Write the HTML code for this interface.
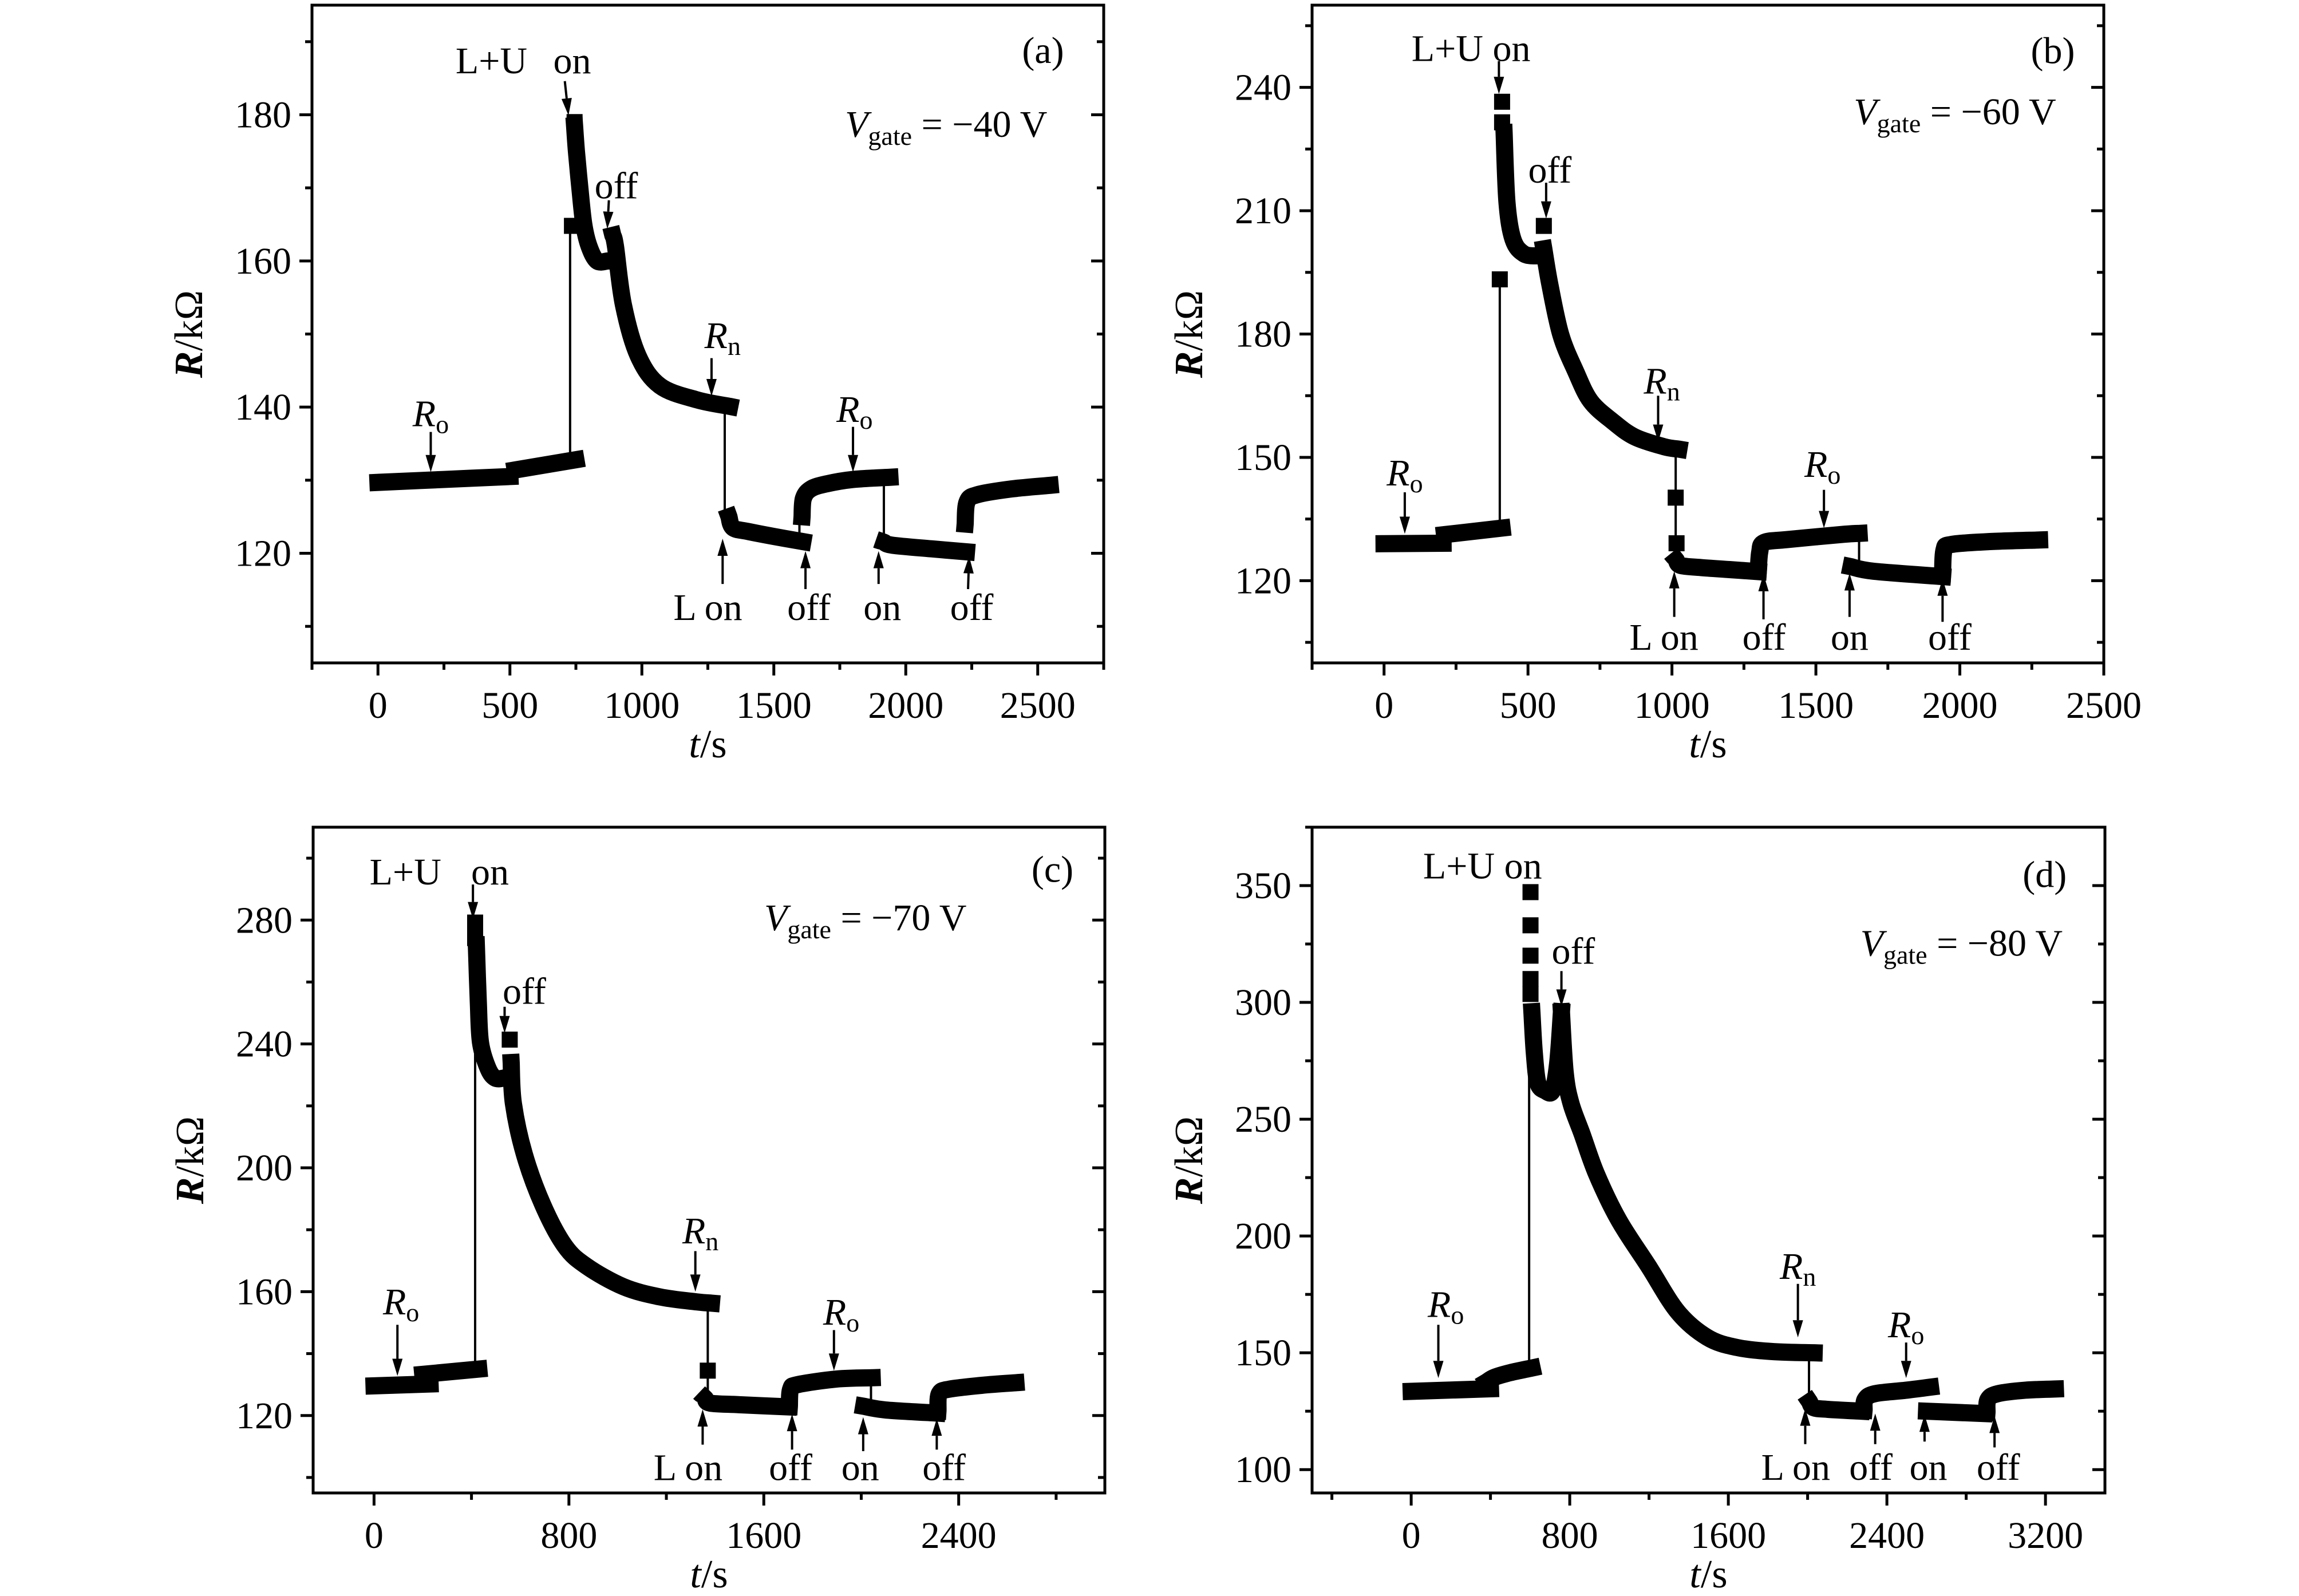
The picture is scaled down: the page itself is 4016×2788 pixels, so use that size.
<!DOCTYPE html>
<html><head><meta charset="utf-8"><style>
html,body{margin:0;padding:0;background:#fff;}
svg{display:block;font-family:"Liberation Serif",serif;}
</style></head><body>
<svg id="fig" xmlns="http://www.w3.org/2000/svg" width="4016" height="2788" viewBox="0 0 4016 2788"></svg>
<script>
// ---------- Panel (a) data ----------
const aXTicks=[0,500,1000,1500,2000,2500];
const aYTicks=[120,140,160,180];
const aSeg1=[[0,129.7],[250,130.1],[500,130.5]];
const aSeg2=[[520,131.4],[750,132.8]];
const aSeg3=[[745,178.5],[752,175],[765,170],[780,165],[800,162],[830,160],[870,160]];
const aSeg4=[[890,163.5],[900,162],[930,154],[986,147],[1069,142.9],[1208,141],[1333,140.1]];
const aSeg5=[[1330,125],[1345,123.5],[1400,123],[1500,122.3],[1610,121.6]];
const aSeg6=[[1607,125],[1612,127.5],[1640,128.8],[1700,129.5],[1800,130.1],[1940,130.4]];
const aSeg7=[[1918,121.5],[1950,121.1],[2100,120.6],[2230,120.2]];
const aSeg8=[[2225,124],[2232,127],[2270,128],[2400,128.8],[2547,129.3]];
const aSquares=[[735,164.8],[745,179]];
const aJumps=[[728,132.8,164],[1314,139.5,125],[1597,122,125],[1917,130,121.5]];
// ---------- Panel (b) data ----------
const bXTicks=[0,500,1000,1500,2000,2500];
const bYTicks=[120,150,180,210,240];
const bSeg1=[[0,129.0],[205,129.1]];
const bSeg2=[[210,131.2],[410,132.8]];
const bSeg3=[[417,229],[427,212],[448,203],[486,199.5],[537,199]];
const bSeg4=[[555,200.7],[576,192],[614,179.8],[665,171],[717,163.7],[793,158.8],[870,155],[972,152.6],[1024,152]];
const bSeg5=[[1015,125],[1030,123.7],[1100,123.2],[1200,122.7],[1300,122.2]];
const bSeg6=[[1300,122.5],[1305,127],[1320,129.3],[1400,130],[1600,131.3],[1650,131.5]];
const bSeg7=[[1622,123.4],[1700,122.3],[1940,121]];
const bSeg8=[[1940,121.5],[1945,127.5],[1970,128.8],[2100,129.5],[2277,129.9]];
const bSquares=[[402,193.3],[410,236.5],[410,231.5],[555,206.3],[1013,140.2],[1016,129.1]];
const bJumps=[[402,132.8,192],[1013,152,125],[1650,131,124]];
// ---------- Panel (c) data ----------
const cXTicks=[0,800,1600,2400];
const cYTicks=[120,160,200,240,280];
const cSeg1=[[0,129.6],[230,130.2]];
const cSeg2=[[200,133.3],[430,135]];
const cSeg3=[[420,272],[428,253.7],[437,240.5],[467,232.3],[497,229],[536,229]];
const cSeg4=[[563,234],[572,220.8],[617,204.4],[693,188],[783,174.8],[873,168.2],[1024,161.6],[1174,158.3],[1325,156.7],[1385,156.3]];
const cSeg5=[[1360,125.5],[1380,124],[1500,123.5],[1700,122.8]];
const cSeg6=[[1705,123],[1710,128.5],[1740,130],[1900,131.8],[2045,132.2]];
const cSeg7=[[2010,123],[2100,121.8],[2310,120.8]];
const cSeg8=[[2315,121.5],[2320,127],[2360,128.5],[2500,129.8],[2635,130.6]];
const cSquares=[[415,279.2],[415,274.2],[557,241.4],[1370,134.5]];
const cJumps=[[415,135,272],[1370,156,125],[2040,132,123]];
// ---------- Panel (d) data ----------
const dXTicks=[0,800,1600,2400,3200];
const dYTicks=[100,150,200,250,300,350];
const dSeg1=[[0,133.5],[400,134.6]];
const dSeg2=[[380,137.5],[420,139.5],[500,141.5],[610,143.5]];
const dSeg3=[[609,296],[621,278.6],[639,265.5],[676,262.2],[713,262.2],[739,274],[758,296]];
const dSeg4=[[758,296],[777,270],[806,256.8],[862,243.7],[936,226.3],[1048,206.7],[1197,187.1],[1345,167.5],[1494,156.6],[1642,152.3],[1828,150.5],[2033,150]];
const dSeg5=[[2010,129],[2030,126.5],[2100,125.8],[2270,125]];
const dSeg6=[[2285,125.5],[2290,130],[2340,132.5],[2500,134],[2620,135.3]];
const dSeg7=[[2600,125],[2890,124]];
const dSeg8=[[2905,124.5],[2910,130],[2960,132.5],[3100,134],[3250,134.5]];
const dSquares=[[602,347.2],[602,333],[602,320],[602,310],[602,303.6]];
const dJumps=[[595,143.5,283],[2007,150,129]];

const NS="http://www.w3.org/2000/svg";
const svg=document.getElementById('fig');
function mk(tag,attrs,parent){const e=document.createElementNS(NS,tag);for(const k in attrs)e.setAttribute(k,attrs[k]);(parent||svg).appendChild(e);return e;}
function smoothPath(pts){
  if(pts.length<3) return 'M'+pts.map(p=>p[0]+','+p[1]).join(' L');
  let d='M'+pts[0][0]+','+pts[0][1];
  for(let i=0;i<pts.length-1;i++){
    const p0=pts[Math.max(0,i-1)],p1=pts[i],p2=pts[i+1],p3=pts[Math.min(pts.length-1,i+2)];
    const c1x=p1[0]+(p2[0]-p0[0])/6,c1y=p1[1]+(p2[1]-p0[1])/6;
    const c2x=p2[0]-(p3[0]-p1[0])/6,c2y=p2[1]-(p3[1]-p1[1])/6;
    d+=` C${c1x},${c1y} ${c2x},${c2y} ${p2[0]},${p2[1]}`;
  }
  return d;
}

function panel(cfg){
  const g=mk('g',{});
  
  
  const X=t=>cfg.x0+(t-cfg.xmin)/(cfg.xmax-cfg.xmin)*(cfg.x1-cfg.x0);
  const Y=r=>cfg.y1-(r-cfg.ymin)/(cfg.ymax-cfg.ymin)*(cfg.y1-cfg.y0);
  const fr=mk('rect',{x:cfg.x0,y:cfg.y0,width:cfg.x1-cfg.x0,height:cfg.y1-cfg.y0,fill:'none',stroke:'#000','stroke-width':5},g);
  
  
  for(let t=cfg.xMinorStart;t<=cfg.xmax+0.1;t+=cfg.xMinorStep){
    const major=cfg.xTicks.includes(t);
    const l=mk('line',{x1:X(t),x2:X(t),y1:cfg.y1,y2:cfg.y1+(major?22:12),stroke:'#000','stroke-width':5},g);
    
    
  }
  cfg.xTicks.forEach(t=>{
    const tx=mk('text',{x:X(t),y:cfg.y1+96,'font-size':66,'text-anchor':'middle'},g);
    tx.textContent=t;
    
    
  });
  for(let r=cfg.yMinorStart;r<=cfg.ymax+0.1;r+=cfg.yMinorStep){
    const major=cfg.yTicks.includes(r);
    const len=major?22:12;
    const l=mk('line',{x1:cfg.x0-len,x2:cfg.x0,y1:Y(r),y2:Y(r),stroke:'#000','stroke-width':5},g);
    
    
    const l2=mk('line',{x1:cfg.x1-len,x2:cfg.x1,y1:Y(r),y2:Y(r),stroke:'#000','stroke-width':5},g);
    
    
  }
  cfg.yTicks.forEach(r=>{
    const tx=mk('text',{x:cfg.x0-36,y:Y(r)+22,'font-size':66,'text-anchor':'end'},g);
    tx.textContent=r;
    
    
  });
  const xt=mk('text',{x:(cfg.x0+cfg.x1)/2,y:cfg.y1+165,'font-size':70,'text-anchor':'middle'},g);
  xt.innerHTML='<tspan font-style="italic">t</tspan>/s';
  
  
  const cy=(cfg.y0+cfg.y1)/2, cx=cfg.x0-216;
  const yt=mk('text',{x:cx,y:cy+24,'font-size':70,'text-anchor':'middle',transform:`rotate(-90 ${cx} ${cy})`},g);
  yt.innerHTML='<tspan font-style="italic" font-weight="bold">R</tspan>/kΩ';
  
  
  cfg.jumps.forEach(j=>{
    const l=mk('line',{x1:X(j[0]),x2:X(j[0]),y1:Y(j[1]),y2:Y(j[2]),stroke:'#000','stroke-width':4},g);
    
    
  });
  cfg.segs.forEach((s,i)=>{
    const p=mk('path',{d:smoothPath(s.map(d=>[X(d[0]),Y(d[1])])),fill:'none',stroke:'#000','stroke-width':30,'stroke-linejoin':'round','stroke-linecap':'square'},g);
    
    
  });
  cfg.squares.forEach(d=>{
    const r=mk('rect',{x:X(d[0])-14,y:Y(d[1])-14,width:28,height:28,fill:'#000'},g);
    
    
  });
  cfg.arrows.forEach(a=>{
    const x1=X(a[0]),y1=Y(a[1]),x2=X(a[2]),y2=Y(a[3]);
    const dx=x2-x1,dy=y2-y1,L=Math.hypot(dx,dy),ux=dx/L,uy=dy/L;
    const bx=x2-ux*30,by=y2-uy*30;
    const ag=mk('g',{},g);
    
    
    mk('line',{x1:x1,y1:y1,x2:bx,y2:by,stroke:'#000','stroke-width':4},ag);
    mk('polygon',{points:`${x2},${y2} ${bx-uy*9},${by+ux*9} ${bx+uy*9},${by-ux*9}`,fill:'#000'},ag);
  });
  cfg.labels.forEach(l=>{
    const tx=mk('text',{x:X(l[0]),y:Y(l[1])+22,'font-size':66,'text-anchor':'middle'},g);
    tx.innerHTML=l[2];
    
    
  });
}
const RO='<tspan font-style="italic">R</tspan><tspan font-size="46" dy="12">o</tspan>';
const RN='<tspan font-style="italic">R</tspan><tspan font-size="46" dy="12">n</tspan>';
const VG=v=>`<tspan font-style="italic">V</tspan><tspan font-size="46" dy="14">gate</tspan><tspan dy="-14"> = −${v} V</tspan>`;

panel({id:'a',x0:545,x1:1928,y0:9,y1:1158,xmin:-250,xmax:2750,ymin:105,ymax:195,
 xTicks:aXTicks,yTicks:aYTicks,xMinorStart:-250,xMinorStep:250,yMinorStart:110,yMinorStep:10,
 segs:[aSeg1,aSeg2,aSeg3,aSeg4,aSeg5,aSeg6,aSeg7,aSeg8],squares:aSquares,jumps:aJumps,
 arrows:[[200,136.6,200,131.1],[708,184.6,722,179.9],[875,168.3,869,164.4],[1264,146.7,1264,141.5],[1800,137.3,1800,131.1],
  [1306,115.8,1306,122],[1620,115.1,1620,120.3],[1897,115.8,1897,120.3],[2236,115.1,2240,119.6]],
 labels:[[200,139.1,RO,'ro-label'],[430,187.4,'L+U','lu-label'],[736,187.4,'on','on-label'],[903,170.3,'off','off-label'],
  [1306,149.8,RN,'rn-label'],[1806,139.7,RO,'ro-label'],[1250,112.6,'L on','l-on-label'],[1633,112.6,'off','off-label'],
  [1911,112.6,'on','on-label'],[2250,112.6,'off','off-label'],[2520,188.8,'(a)','panel-label'],[2153,178.7,VG(40),'vgate-label']]});

panel({id:'b',x0:2292,x1:3675,y0:9,y1:1158,xmin:-250,xmax:2500,ymin:100,ymax:260,
 xTicks:bXTicks,yTicks:bYTicks,xMinorStart:-250,xMinorStep:250,yMinorStart:105,yMinorStep:15,
 segs:[bSeg1,bSeg2,bSeg3,bSeg4,bSeg5,bSeg6,bSeg7,bSeg8],squares:bSquares,jumps:bJumps,
 arrows:[[72,141.5,72,131.4],[399,246.4,399,238.4],[563,216.8,563,208.1],[952,165,952,153.8],[1528,142.1,1528,132.8],
  [1008,111.2,1008,122.3],[1318,110.6,1318,121.6],[1617,111.2,1617,121.8],[1940,110,1940,120.5]],
 labels:[[72,146.2,RO,'ro-label'],[302,249.5,'L+U on','lu-on-label'],[576,219.9,'off','off-label'],[965,168.6,RN,'rn-label'],
  [1523,148.3,RO,'ro-label'],[972,106.3,'L on','l-on-label'],[1320,106.3,'off','off-label'],[1617,106.3,'on','on-label'],
  [1965,106.3,'off','off-label'],[2323,248.9,'(b)','panel-label'],[1983,234.1,VG(60),'vgate-label']]});

panel({id:'c',x0:547,x1:1930,y0:1445,y1:2608,xmin:-250,xmax:3000,ymin:95,ymax:310,
 xTicks:cXTicks,yTicks:cYTicks,xMinorStart:0,xMinorStep:400,yMinorStart:100,yMinorStep:20,
 segs:[cSeg1,cSeg2,cSeg3,cSeg4,cSeg5,cSeg6,cSeg7,cSeg8],squares:cSquares,jumps:cJumps,
 arrows:[[406,291.5,406,280.3],[536,252,536,243.5],[96,149.3,96,132.8],[1319,173.1,1319,160],[1888,147.6,1888,134.5],
  [1349,110.6,1349,122],[1716,109,1716,120.5],[2008,108.5,2008,119.5],[2310,109,2310,119]],
 labels:[[129,295.6,'L+U','lu-label'],[476,295.6,'on','on-label'],[617,257,'off','off-label'],[111,156.7,RO,'ro-label'],
  [1340,179.7,RN,'rn-label'],[1918,153.4,RO,'ro-label'],[1289,103.2,'L on','l-on-label'],[1710,103.2,'off','off-label'],
  [1996,103.2,'on','on-label'],[2340,103.2,'off','off-label'],[2785,296.4,'(c)','panel-label'],[2017,280.8,VG(70),'vgate-label']]});

panel({id:'d',x0:2292,x1:3677,y0:1445,y1:2608,xmin:-500,xmax:3500,ymin:90,ymax:375,
 xTicks:dXTicks,yTicks:dYTicks,xMinorStart:-400,xMinorStep:400,yMinorStart:100,yMinorStep:25,
 segs:[dSeg1,dSeg2,dSeg3,dSeg4,dSeg5,dSeg6,dSeg7,dSeg8],squares:dSquares,jumps:dJumps,
 arrows:[[758,313.4,758,298.2],[137,162,137,139.2],[1951,179.5,1951,156.6],[2497,154.4,2497,139.2],
  [1988,110.9,1988,126.1],[2341,110.9,2341,124],[2590,112,2590,123.5],[2943,109.5,2943,123]],
 labels:[[360,358.5,'L+U on','lu-on-label'],[818,322,'off','off-label'],[175,170.8,RO,'ro-label'],[1951,187.1,RN,'rn-label'],
  [2497,162,RO,'ro-label'],[1940,101,'L on','l-on-label'],[2319,101,'off','off-label'],[2609,101,'on','on-label'],
  [2962,101,'off','off-label'],[3196,354.8,'(d)','panel-label'],[2776,325.4,VG(80),'vgate-label']]});
</script>
</body></html>
